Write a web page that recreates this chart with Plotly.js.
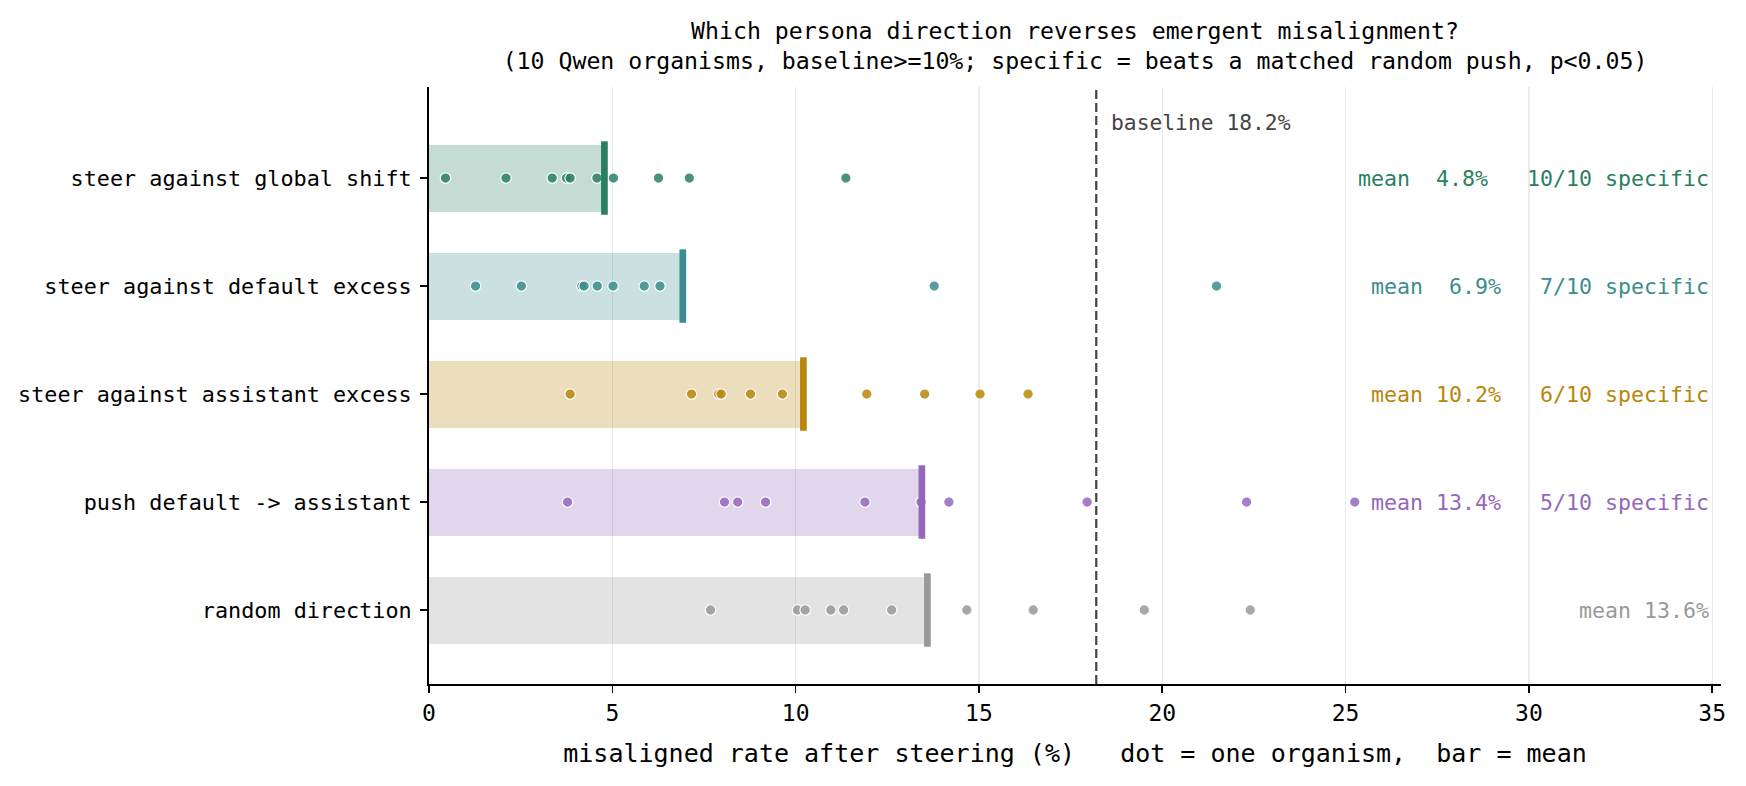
<!DOCTYPE html>
<html>
<head>
<meta charset="utf-8">
<script src="https://cdn.plot.ly/plotly-3.0.1.min.js"></script>
<style>html,body{margin:0;padding:0;background:#fff;}#chart{width:1746px;height:786px;}</style>
</head>
<body>
<div id="chart"></div>
<script>
// ---- data ----
const categories = [
  "steer against global shift",
  "steer against default excess",
  "steer against assistant excess",
  "push default -> assistant",
  "random direction"
];
const globalShift     = [0.45, 2.10, 3.36, 3.75, 3.85, 4.58, 5.03, 6.26, 7.10, 11.37];
const defaultExcess   = [1.27, 2.52, 4.17, 4.23, 4.59, 5.02, 5.87, 6.30, 13.78, 21.48];
const assistantExcess = [3.85, 7.16, 7.90, 7.97, 8.77, 9.64, 11.94, 13.52, 15.03, 16.34];
const pushDefault     = [3.78, 8.06, 8.42, 9.18, 11.89, 13.42, 14.18, 17.95, 22.30, 25.25];
const randomDirection = [7.68, 10.05, 10.26, 10.96, 11.31, 12.62, 14.67, 16.48, 19.51, 22.40];
const specificCounts  = [10, 7, 6, 5, null];
const nOrganisms = 10;
const baseline = 18.2;
const xTickVals = [0, 5, 10, 15, 20, 25, 30, 35];

// ---- styling ----
const colors = [[42,127,98],[59,141,143],[184,134,11],[148,103,189],[153,153,153]];
const rgba = (c,a) => `rgba(${c[0]},${c[1]},${c[2]},${a})`;
const FONT = "DejaVu Sans Mono, monospace";
const NB = "\u00a0";

const series = [globalShift, defaultExcess, assistantExcess, pushDefault, randomDirection];
const means = series.map(s => s.reduce((a,b)=>a+b,0)/s.length);
const rows = categories.map((_,i)=>i);

const traces = [];
// bars = mean
traces.push({
  type: 'bar', orientation: 'h',
  y: rows, x: means, base: 0, width: 0.62,
  marker: {color: colors.map(c=>rgba(c,0.27)), line: {width: 0}},
  hoverinfo: 'skip'
});
// dots = organisms
series.forEach((s,i)=>{
  traces.push({
    type: 'scatter', mode: 'markers',
    x: s, y: s.map(()=>i),
    marker: {size: 10.5, color: rgba(colors[i],0.85), line: {color: '#ffffff', width: 1.2}},
    hoverinfo: 'x'
  });
});
// mean ticks
means.forEach((m,i)=>{
  traces.push({
    type: 'scatter', mode: 'lines',
    x: [m, m], y: [i-0.34, i+0.34],
    line: {color: rgba(colors[i],1), width: 6.7},
    hoverinfo: 'skip'
  });
});

const annotations = means.map((m,i)=>{
  let v = m.toFixed(1);
  while (v.length < 4) v = NB + v;
  let t = "mean" + NB + v + "%";
  if (specificCounts[i] !== null) t += NB+NB+NB + specificCounts[i] + "/" + nOrganisms + NB + "specific";
  return {
    x: 34.98, y: i, xref: 'x', yref: 'y', xanchor: 'right', yanchor: 'middle',
    text: t, showarrow: false,
    font: {family: FONT, size: 21.6, color: rgba(colors[i],1)}
  };
});
annotations.push({
  x: baseline + 0.35, y: -0.51, xref: 'x', yref: 'y', xanchor: 'left', yanchor: 'middle',
  text: "baseline" + NB + baseline.toFixed(1) + "%", showarrow: false,
  font: {family: FONT, size: 21.3, color: '#444444'}
});

const layout = {
  width: 1746, height: 786,
  margin: {l: 429, r: 25, t: 87, b: 102, pad: 0},
  paper_bgcolor: '#ffffff', plot_bgcolor: '#ffffff',
  showlegend: false,
  title: {
    text: "Which persona direction reverses emergent misalignment?<br>(10 Qwen organisms, baseline>=10%; specific = beats a matched random push, p<0.05)",
    font: {family: FONT, size: 23.2, color: '#000000'},
    x: 0.5, xref: 'paper', xanchor: 'center',
    y: 1 - 39/786, yref: 'container', yanchor: 'middle'
  },
  xaxis: {
    range: [0, 35.24], tickvals: xTickVals,
    showgrid: true, gridcolor: '#ebebeb', gridwidth: 1.3,
    zeroline: false, showline: true, linecolor: '#000000', linewidth: 1.6,
    ticks: 'outside', ticklen: 7.3, tickwidth: 1.6, tickcolor: '#000000',
    tickfont: {family: FONT, size: 23, color: '#000000'},
    title: {text: "misaligned rate after steering (%)"+NB+NB+NB+"dot = one organism,"+NB+NB+"bar = mean",
            font: {family: FONT, size: 25, color: '#000000'}, standoff: 20},
    fixedrange: true
  },
  yaxis: {
    range: [4.685, -0.843], tickvals: rows, ticktext: categories,
    showgrid: false, zeroline: false, showline: true, linecolor: '#000000', linewidth: 1.6,
    ticks: 'outside', ticklen: 7.3, tickwidth: 1.6, tickcolor: '#000000',
    ticklabelstandoff: 4,
    tickfont: {family: FONT, size: 21.8, color: '#000000'},
    fixedrange: true
  },
  shapes: [{
    type: 'line', xref: 'x', yref: 'paper', x0: baseline, x1: baseline, y0: 0, y1: 1,
    line: {color: '#444444', width: 2.2, dash: '9px,4px'}, layer: 'above'
  }],
  annotations: annotations,
  bargap: 0
};

Plotly.newPlot('chart', traces, layout, {displayModeBar: false, staticPlot: true});
</script>
</body>
</html>
